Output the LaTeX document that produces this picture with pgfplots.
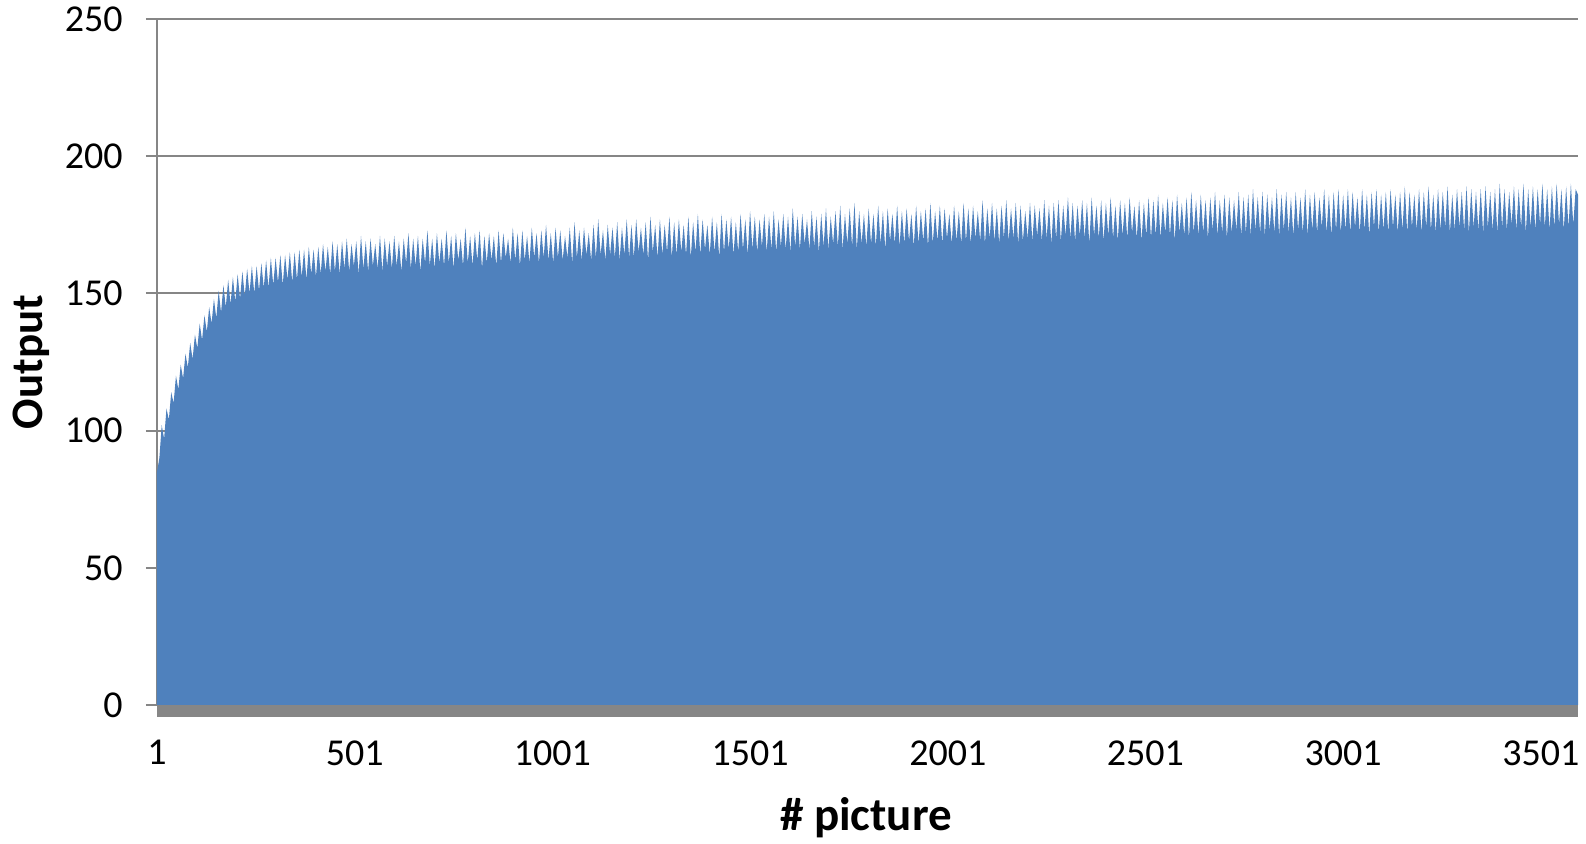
\documentclass[border=0pt]{standalone}
\usepackage{pgfplots}
\pgfplotsset{compat=1.18}
\usepackage{pgfplotstable}
\usepackage{fontspec}
\setmainfont{Carlito}
\definecolor{areablue}{RGB}{79,129,189}
\definecolor{axgray}{RGB}{134,134,134}
\pgfplotstableread[row sep=\\, header=false]{
85\\90\\102\\97\\108\\104\\114\\110\\120\\115\\124\\119\\128\\123\\132\\126\\135\\130\\139\\133\\
142\\136\\145\\139\\148\\141\\151\\143\\153\\145\\155\\146\\156\\147\\157\\148\\158\\149\\159\\150\\
160\\150\\160\\151\\161\\152\\162\\152\\163\\153\\163\\154\\164\\153\\164\\155\\165\\154\\165\\155\\
166\\156\\166\\155\\167\\157\\166\\156\\167\\157\\168\\158\\167\\157\\169\\158\\168\\157\\169\\159\\
170\\158\\168\\160\\169\\157\\171\\159\\169\\158\\170\\160\\168\\159\\171\\158\\170\\160\\169\\159\\
171\\160\\169\\158\\170\\161\\172\\159\\170\\160\\171\\158\\170\\161\\173\\160\\170\\159\\172\\161\\
170\\160\\173\\161\\171\\159\\172\\162\\170\\160\\174\\161\\171\\160\\172\\162\\173\\159\\171\\161\\
172\\162\\171\\160\\173\\161\\172\\163\\170\\161\\174\\162\\172\\160\\173\\162\\171\\161\\174\\163\\
172\\161\\173\\163\\175\\162\\172\\161\\174\\163\\173\\162\\171\\163\\174\\161\\176\\163\\173\\162\\
174\\164\\172\\162\\175\\163\\177\\164\\173\\162\\175\\164\\174\\163\\176\\162\\174\\164\\177\\163\\
175\\163\\177\\165\\174\\164\\176\\162\\178\\165\\175\\163\\177\\164\\175\\165\\178\\163\\176\\164\\
177\\165\\175\\164\\178\\163\\176\\165\\179\\164\\177\\166\\175\\164\\178\\165\\176\\163\\179\\165\\
177\\166\\178\\164\\176\\165\\179\\166\\177\\164\\180\\166\\178\\165\\177\\167\\179\\165\\178\\166\\
180\\165\\177\\167\\179\\166\\178\\165\\181\\167\\178\\166\\179\\168\\177\\166\\180\\167\\178\\165\\
179\\167\\181\\166\\178\\168\\180\\167\\182\\166\\179\\168\\181\\167\\183\\166\\180\\168\\179\\167\\
181\\168\\179\\167\\182\\168\\180\\166\\181\\169\\179\\168\\182\\167\\180\\168\\181\\169\\179\\167\\
182\\168\\180\\169\\181\\167\\183\\168\\180\\169\\182\\168\\181\\170\\179\\168\\182\\169\\180\\168\\
183\\169\\181\\168\\182\\170\\180\\169\\184\\168\\181\\170\\183\\169\\181\\168\\182\\170\\184\\169\\
181\\170\\183\\168\\182\\169\\180\\170\\183\\169\\182\\171\\181\\169\\184\\170\\182\\168\\183\\170\\
184\\169\\182\\171\\185\\170\\183\\169\\182\\171\\184\\170\\183\\168\\185\\171\\182\\170\\184\\169\\
183\\171\\185\\170\\182\\169\\184\\171\\183\\170\\185\\172\\182\\170\\184\\169\\183\\171\\185\\170\\
184\\171\\186\\170\\183\\172\\185\\171\\184\\169\\186\\172\\183\\171\\185\\170\\187\\172\\184\\171\\
186\\172\\184\\170\\185\\173\\187\\171\\184\\172\\186\\170\\185\\172\\184\\173\\187\\171\\185\\172\\
186\\171\\188\\173\\185\\172\\187\\171\\186\\173\\185\\172\\188\\171\\186\\173\\187\\172\\185\\171\\
187\\173\\185\\172\\188\\171\\186\\173\\187\\172\\185\\174\\188\\172\\186\\171\\187\\173\\188\\172\\
186\\173\\188\\172\\187\\174\\185\\172\\188\\173\\186\\171\\187\\174\\188\\172\\186\\173\\187\\172\\
188\\174\\186\\172\\187\\173\\189\\172\\187\\174\\186\\173\\188\\172\\187\\174\\189\\173\\186\\172\\
188\\173\\187\\174\\189\\172\\186\\173\\188\\174\\187\\173\\189\\172\\188\\174\\187\\173\\188\\172\\
189\\174\\187\\173\\188\\172\\190\\174\\188\\173\\187\\175\\189\\173\\188\\174\\190\\172\\188\\174\\
189\\173\\188\\175\\190\\174\\188\\173\\189\\174\\190\\175\\188\\173\\189\\174\\190\\175\\188\\186\\
}\outdata
\begin{document}
\begin{tikzpicture}
\useasboundingbox (-78.5pt,-69pt) rectangle (714.5pt,352.5pt);
\begin{axis}[
  scale only axis,
  width=710.5pt, height=343pt,
  xmin=1, xmax=3595, ymin=0, ymax=250,
  axis lines*=left,
  x axis line style={draw=none},
  y axis line style={axgray, line width=1pt},
  ytick={0,50,100,150,200,250},
  xtick={1,501,1001,1501,2001,2501,3001,3501},
  xticklabels={1,501,1001,1501,2001,2501,3001,3501},
  tick align=outside,
  major tick length=5.5pt,
  xtick style={draw=none},
  ytick style={axgray, line width=1pt},
  ymajorgrids,
  grid style={axgray, line width=1pt},
  /pgf/number format/assume math mode=true,
  tick label style={font=\fontsize{19}{23}\selectfont, text=black},
  yticklabel style={anchor=east, inner sep=0pt, xshift=-11.5pt},
  xticklabel style={anchor=north, inner sep=0pt, yshift=-12pt},
  ylabel={Output},
  ylabel style={font=\fontsize{22.5}{27}\selectfont\bfseries, at={(axis description cs:-0.0887,0.5)}, anchor=center},
  clip=false,
]
\addplot[fill=areablue, draw=none] table[x expr=\coordindex*6+1, y index=0] {\outdata} \closedcycle;
\fill[axgray] (rel axis cs:0,0) rectangle ([yshift=-6pt]rel axis cs:1,0);
\node[font=\fontsize{23.5}{28}\selectfont\bfseries, anchor=center, inner sep=0pt] at (rel axis cs:0.499,-0.164) {\# picture};
\end{axis}
\end{tikzpicture}
\end{document}
